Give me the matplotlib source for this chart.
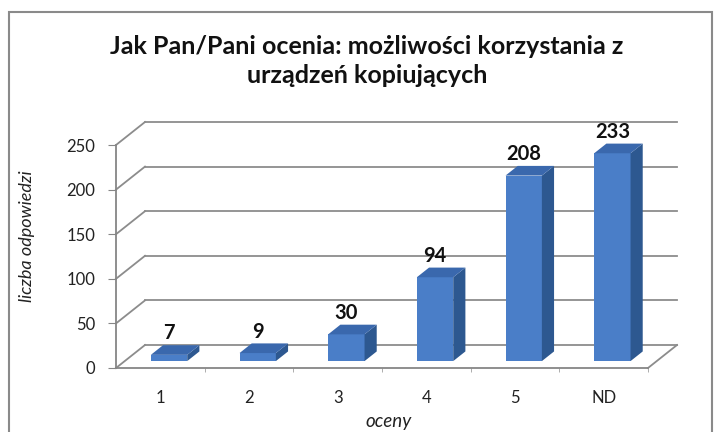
import matplotlib
matplotlib.use("Agg")
import matplotlib.pyplot as plt
from matplotlib.patches import Polygon, Rectangle

categories = ["1", "2", "3", "4", "5", "ND"]
values = [7, 9, 30, 94, 208, 233]
y_ticks = [0, 50, 100, 150, 200, 250]

title = "Jak Pan/Pani ocenia: możliwości korzystania z\nurządzeń kopiujących"
font = "Lato"
grid_col = "#8c8c8c"
front_col = "#4a7ec8"
side_col = "#2d5890"
top_col = "#3a68ad"

W, H = 715, 432
fig = plt.figure(figsize=(W / 100, H / 100), dpi=100)

# chart frame
fig.patches.append(Rectangle((9 / W, -0.05), (712 - 9) / W, 1.05 - 12 / H,
                             transform=fig.transFigure, fill=False,
                             edgecolor="#8a8a8a", linewidth=1.5))

ax = fig.add_axes([116 / W, 1 - 368 / H, (648 - 116) / W, (368 - 145) / H])
ax.set_xlim(-0.5, len(categories) - 0.5)
ax.set_ylim(0, 250)

# depth of the pseudo 3d box in data units
px_x = (648 - 116) / len(categories)
px_y = (368 - 145) / 250
dep_x = 29 / px_x
dep_y = 23 / px_y
x0, x1 = -0.5, len(categories) - 0.5

for v in y_ticks:
    ax.plot([x0 + dep_x, x1 + dep_x], [v + dep_y, v + dep_y], color=grid_col,
            lw=1.3, clip_on=False, zorder=1)
    ax.plot([x0, x0 + dep_x], [v, v + dep_y], color=grid_col, lw=1.3,
            clip_on=False, zorder=1)
ax.plot([x1, x1 + dep_x], [0, dep_y], color=grid_col, lw=1.3, clip_on=False, zorder=1)

# bars
w = 0.41
f0, f1 = 0.3, 0.72
ddx, ddy = (f1 - f0) * dep_x, (f1 - f0) * dep_y
for i, v in enumerate(values):
    xl = i - w / 2 + f0 * dep_x
    xr = xl + w
    yb = f0 * dep_y
    yt = yb + v
    ax.add_patch(Polygon([(xl, yb), (xr, yb), (xr, yt), (xl, yt)],
                         facecolor=front_col, edgecolor="none", zorder=3, clip_on=False))
    ax.add_patch(Polygon([(xr, yb), (xr + ddx, yb + ddy), (xr + ddx, yt + ddy), (xr, yt)],
                         facecolor=side_col, edgecolor="none", zorder=3, clip_on=False))
    ax.add_patch(Polygon([(xl, yt), (xr, yt), (xr + ddx, yt + ddy), (xl + ddx, yt + ddy)],
                         facecolor=top_col, edgecolor="none", zorder=3, clip_on=False))
    ax.text((xl + xr) / 2, yt + ddy + 2, str(v), ha="center", va="bottom",
            fontsize=14.5, fontweight="bold", family=font, color="#111111", zorder=4)

for s in ["top", "right"]:
    ax.spines[s].set_visible(False)
for s in ["left", "bottom"]:
    ax.spines[s].set_color("#868686")
    ax.spines[s].set_linewidth(1.3)
    ax.spines[s].set_zorder(2)

ax.set_yticks(y_ticks)
ax.set_yticklabels([str(t) for t in y_ticks], family=font, fontsize=12, color="#222222")
ax.tick_params(axis="y", direction="out", length=6, color="#868686", pad=9)
ax.set_xticks(range(len(categories)))
ax.set_xticklabels(categories, family=font, fontsize=12, color="#222222")
ax.set_xticks([i + 0.5 for i in range(len(categories) - 1)] + [x1], minor=True)
ax.tick_params(axis="x", which="major", length=0, pad=16)
ax.tick_params(axis="x", which="minor", direction="out", length=3, color="#a0a0a0")
ax.patch.set_alpha(0)

fig.text(367 / W, 1 - 61 / H, title, ha="center", va="center", fontsize=18,
         fontweight="bold", family=font, linespacing=1.3, color="#111111")
fig.text(27 / W, 1 - 236 / H, "liczba odpowiedzi", rotation=90, ha="center",
         va="center", fontsize=13, style="italic", family=font, color="#222222")
fig.text(389 / W, 1 - 422 / H, "oceny", ha="center", va="center", fontsize=13.5,
         style="italic", family=font, color="#222222")

fig.savefig("out.png", dpi=100)
